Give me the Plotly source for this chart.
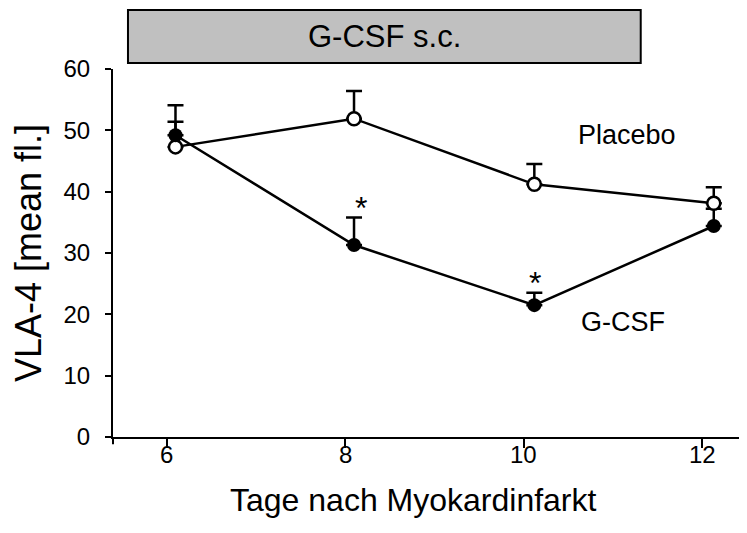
import plotly.graph_objects as go

# Data
days_placebo = [6.1, 8.1, 10.12, 12.13]
placebo = [47.3, 51.9, 41.2, 38.1]
placebo_err = [4.1, 4.5, 3.3, 2.6]

days_gcsf = [6.1, 8.1, 10.12, 12.13]
gcsf = [49.2, 31.3, 21.5, 34.4]
gcsf_err = [4.9, 4.5, 2.0, 2.8]

x_ticks = [6, 8, 10, 12]
x_tick_labels = ["6", "8", "10", "12"]
y_ticks = [0, 10, 20, 30, 40, 50, 60]

star_x = [8.18, 10.13]
star_y = [36.9, 24.6]

FONT = "Liberation Sans, Arial, sans-serif"

fig = go.Figure()

# G-CSF error bars (drawn underneath placebo markers)
fig.add_trace(go.Scatter(
    x=days_gcsf, y=gcsf, mode="markers",
    marker=dict(size=1, color="rgba(0,0,0,0)"),
    error_y=dict(type="data", symmetric=False, array=gcsf_err,
                 arrayminus=[0] * len(gcsf_err), color="black",
                 thickness=2.5, width=8),
    showlegend=False, hoverinfo="skip"))

# Placebo
fig.add_trace(go.Scatter(
    x=days_placebo, y=placebo, mode="lines+markers", name="Placebo",
    line=dict(color="black", width=2.5),
    marker=dict(symbol="circle", size=13, color="white",
                line=dict(color="black", width=2.5)),
    error_y=dict(type="data", symmetric=False, array=placebo_err,
                 arrayminus=[0] * len(placebo_err), color="black",
                 thickness=2.5, width=8),
    showlegend=False))

# G-CSF
fig.add_trace(go.Scatter(
    x=days_gcsf, y=gcsf, mode="lines+markers", name="G-CSF",
    line=dict(color="black", width=2.5),
    marker=dict(symbol="circle", size=14, color="black"),
    showlegend=False))

# Asterisks
fig.add_trace(go.Scatter(
    x=star_x, y=star_y, mode="text", text=["*"] * len(star_x),
    textfont=dict(family=FONT, size=32, color="black"),
    textposition="middle center", showlegend=False, hoverinfo="skip"))

# The page adds an 8px body margin, so the figure is 8px smaller
fig.update_layout(
    width=739, height=525,
    margin=dict(l=105, r=2, t=61, b=96, autoexpand=False),
    paper_bgcolor="white", plot_bgcolor="white",
    font=dict(family=FONT, color="black"),
    xaxis=dict(range=[5.40, 12.48], tickvals=x_ticks, showticklabels=False,
               showline=True, linecolor="black", linewidth=2,
               ticks="outside", ticklen=9, tickwidth=2, tickcolor="black",
               showgrid=False, zeroline=False, automargin=False),
    yaxis=dict(range=[0, 60], tickvals=y_ticks,
               showline=True, linecolor="black", linewidth=2,
               ticks="outside", ticklen=6, tickwidth=2, tickcolor="black",
               showgrid=False, zeroline=False, automargin=False,
               tickfont=dict(size=24), ticklabelstandoff=10),
)

# X tick labels, placed close under the axis
for xv, lab in zip(x_ticks, x_tick_labels):
    fig.add_annotation(x=xv, xref="x", yref="paper", y=-0.047,
                       text=lab, showarrow=False,
                       font=dict(size=24, color="black"),
                       xanchor="center", yanchor="middle")

# Axis titles
fig.add_annotation(xref="paper", yref="paper", x=0.476, y=-0.17,
                   text="Tage nach Myokardinfarkt", showarrow=False,
                   font=dict(size=32, color="black"),
                   xanchor="center", yanchor="middle")
fig.add_annotation(xref="paper", yref="paper", x=-0.1345, y=0.5,
                   text="VLA-4 [mean fl.]", showarrow=False, textangle=-90,
                   font=dict(size=36, color="black"),
                   xanchor="center", yanchor="middle")

# Header box
fig.add_shape(type="rect", xref="paper", yref="paper",
              x0=0.0237, x1=0.835, y0=1.016, y1=1.160,
              fillcolor="#c0c0c0", line=dict(color="black", width=2))
fig.add_annotation(xref="paper", yref="paper", x=(0.0237 + 0.835) / 2,
                   y=1.088, text="G-CSF s.c.", showarrow=False,
                   font=dict(size=31, color="black"),
                   xanchor="center", yanchor="middle")

# Series labels
fig.add_annotation(x=11.16, y=49.2, text="Placebo", showarrow=False,
                   font=dict(size=27, color="black"))
fig.add_annotation(x=11.11, y=18.7, text="G-CSF", showarrow=False,
                   font=dict(size=27, color="black"))

# Axis corner extension below the x-axis
fig.add_shape(type="line", xref="paper", yref="paper",
              x0=0, x1=0, y0=0, y1=-0.02,
              line=dict(color="black", width=2))

fig.write_html("out.html")
